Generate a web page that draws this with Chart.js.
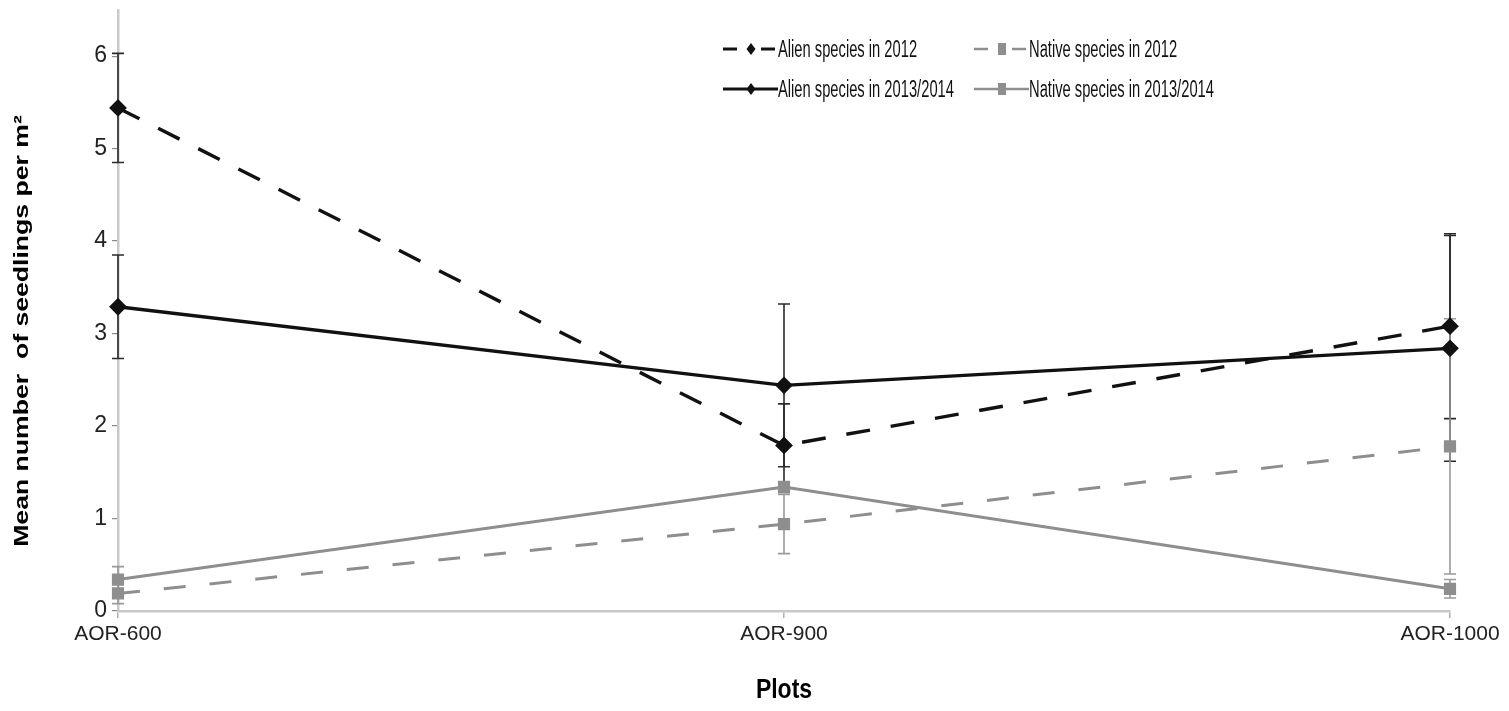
<!DOCTYPE html>
<html>
<head>
<meta charset="utf-8">
<title>Mean number of seedlings per m²</title>
<script src="https://cdn.jsdelivr.net/npm/chart.js@4.4.1/dist/chart.umd.min.js"></script>
<style>
  html, body { margin: 0; padding: 0; background: #ffffff; }
  #wrap { width: 1509px; height: 711px; }
</style>
</head>
<body>
<div id="wrap"><canvas id="c" width="1509" height="711"></canvas></div>
<script>
// Plots along the elevation gradient
const plots = ['AOR-600', 'AOR-900', 'AOR-1000'];

// Mean seedlings per m² and their error-bar half-lengths
const alien2012 = [5.44, 1.79, 3.08];
const alien2012Err = [0.59, 0.45, 1.00];

const alien1314 = [3.29, 2.44, 2.84];
const alien1314Err = [0.56, 0.88, 1.22];

const native2012 = [0.19, 0.94, 1.78];
const native2012Err = [0.11, 0.32, 1.38];

const native1314 = [0.34, 1.34, 0.24];
const native1314Err = [0.14, 0.06, 0.10];

const yTicks = [0, 1, 2, 3, 4, 5, 6];

const seriesNames = [
  'Alien species in 2012',
  'Alien species in 2013/2014',
  'Native species in 2012',
  'Native species in 2013/2014'
];

const BLACK = '#111111';
const GREY = '#8e8e8e';
const FONT = '"Liberation Sans", Arial, sans-serif';

const datasets = [
  {
    label: seriesNames[0], data: alien2012, err: alien2012Err,
    borderColor: BLACK, backgroundColor: BLACK, borderWidth: 3.4,
    borderDash: [24, 21], pointStyle: 'rectRot', pointRadius: 6.5,
    errColor: '#2a2a2a'
  },
  {
    label: seriesNames[1], data: alien1314, err: alien1314Err,
    borderColor: BLACK, backgroundColor: BLACK, borderWidth: 3.4,
    borderDash: [], pointStyle: 'rectRot', pointRadius: 6.5,
    errColor: '#2a2a2a'
  },
  {
    label: seriesNames[2], data: native2012, err: native2012Err,
    borderColor: GREY, backgroundColor: GREY, borderWidth: 3,
    borderDash: [22, 24], pointStyle: 'rect', pointRadius: 6.5,
    errColor: '#9a9a9a'
  },
  {
    label: seriesNames[3], data: native1314, err: native1314Err,
    borderColor: GREY, backgroundColor: GREY, borderWidth: 3,
    borderDash: [], pointStyle: 'rect', pointRadius: 6.5,
    errColor: '#9a9a9a'
  }
];

// Vertical error bars with horizontal caps, placed through the chart scales
const errorBars = {
  id: 'errorBars',
  beforeDatasetsDraw(chart) {
    const ctx = chart.ctx;
    const ys = chart.scales.y;
    chart.data.datasets.forEach((ds, i) => {
      const meta = chart.getDatasetMeta(i);
      meta.data.forEach((pt, j) => {
        const v = ds.data[j], e = ds.err[j];
        const top = ys.getPixelForValue(v + e);
        const bot = ys.getPixelForValue(v - e);
        ctx.save();
        ctx.strokeStyle = ds.errColor;
        ctx.lineWidth = 1.6;
        ctx.beginPath();
        ctx.moveTo(pt.x, top); ctx.lineTo(pt.x, bot);
        ctx.moveTo(pt.x - 6, top); ctx.lineTo(pt.x + 6, top);
        ctx.moveTo(pt.x - 6, bot); ctx.lineTo(pt.x + 6, bot);
        ctx.stroke();
        ctx.restore();
      });
    });
  }
};

// Axis titles and the two-column legend
const decorations = {
  id: 'decorations',
  afterDraw(chart) {
    const ctx = chart.ctx;
    const area = chart.chartArea;

    // y-axis title
    ctx.save();
    ctx.translate(22, 331);
    ctx.rotate(-Math.PI / 2);
    ctx.scale(1.33, 1);
    ctx.font = 'bold 20px ' + FONT;
    ctx.fillStyle = '#000';
    ctx.textAlign = 'center';
    ctx.textBaseline = 'middle';
    ctx.fillText('Mean number  of seedlings per m²', 0, 0);
    ctx.restore();

    // x-axis title
    ctx.save();
    ctx.translate((area.left + area.right) / 2, 698);
    ctx.scale(1, 1.22);
    ctx.font = 'bold 23px ' + FONT;
    ctx.fillStyle = '#000';
    ctx.textAlign = 'center';
    ctx.textBaseline = 'alphabetic';
    ctx.fillText('Plots', 0, 0);
    ctx.restore();

    // legend
    const cols = [723, 974];
    const rows = [49, 89];
    const sampleLen = 55;
    chart.data.datasets.forEach((ds, i) => {
      const col = cols[i < 2 ? 0 : 1];
      const row = rows[i % 2];
      const mid = col + 28;
      ctx.save();
      ctx.strokeStyle = ds.borderColor;
      ctx.lineWidth = ds.borderWidth - 0.4;
      ctx.beginPath();
      if (ds.borderDash.length) {
        ctx.moveTo(col, row); ctx.lineTo(col + 14, row);
        ctx.moveTo(col + 38, row); ctx.lineTo(col + 52, row);
      } else {
        ctx.moveTo(col, row); ctx.lineTo(col + sampleLen, row);
      }
      ctx.stroke();
      ctx.fillStyle = ds.backgroundColor;
      if (ds.pointStyle === 'rectRot') {
        ctx.beginPath();
        ctx.moveTo(mid, row - 6); ctx.lineTo(mid + 4.5, row);
        ctx.lineTo(mid, row + 6); ctx.lineTo(mid - 4.5, row);
        ctx.closePath(); ctx.fill();
      } else {
        ctx.fillRect(mid - 4, row - 6, 8, 12);
      }
      ctx.translate(col + sampleLen, row + 8);
      ctx.scale(0.64, 1);
      ctx.font = '23px ' + FONT;
      ctx.fillStyle = '#111';
      ctx.textAlign = 'left';
      ctx.textBaseline = 'alphabetic';
      ctx.fillText(ds.label, 0, 0);
      ctx.restore();
    });
  }
};

new Chart(document.getElementById('c'), {
  type: 'line',
  data: { labels: plots, datasets: datasets },
  options: {
    responsive: false,
    devicePixelRatio: 1,
    animation: false,
    events: [],
    layout: { padding: { left: 0, right: 59, top: 8, bottom: 0 } },
    plugins: {
      legend: { display: false },
      tooltip: { enabled: false }
    },
    elements: {
      line: { tension: 0, fill: false },
      point: { borderWidth: 0 }
    },
    scales: {
      x: {
        type: 'category',
        offset: false,
        grid: { display: true, drawOnChartArea: false, drawTicks: true, tickLength: 7, color: '#b0b0b0', lineWidth: 1.5 },
        border: { color: '#c9c9c9', width: 2.5 },
        ticks: { font: { size: 21, family: FONT }, color: '#222', padding: 4, maxRotation: 0, autoSkip: false },
        afterFit(scale) { scale.height = 100; }
      },
      y: {
        min: 0,
        max: 6.5,
        grid: { display: true, drawOnChartArea: false, drawTicks: true, tickLength: 6, color: '#8a8a8a', lineWidth: 1.2 },
        border: { color: '#c9c9c9', width: 2.5 },
        ticks: { stepSize: 1, font: { size: 23, family: FONT }, color: '#222', padding: 5 },
        afterBuildTicks(scale) {
          scale.ticks = yTicks.map(v => ({ value: v }));
        },
        afterFit(scale) {
          scale.width = 118;
          scale.paddingTop = 0;
          scale.paddingBottom = 0;
        }
      }
    }
  },
  plugins: [errorBars, decorations]
});
</script>
</body>
</html>
